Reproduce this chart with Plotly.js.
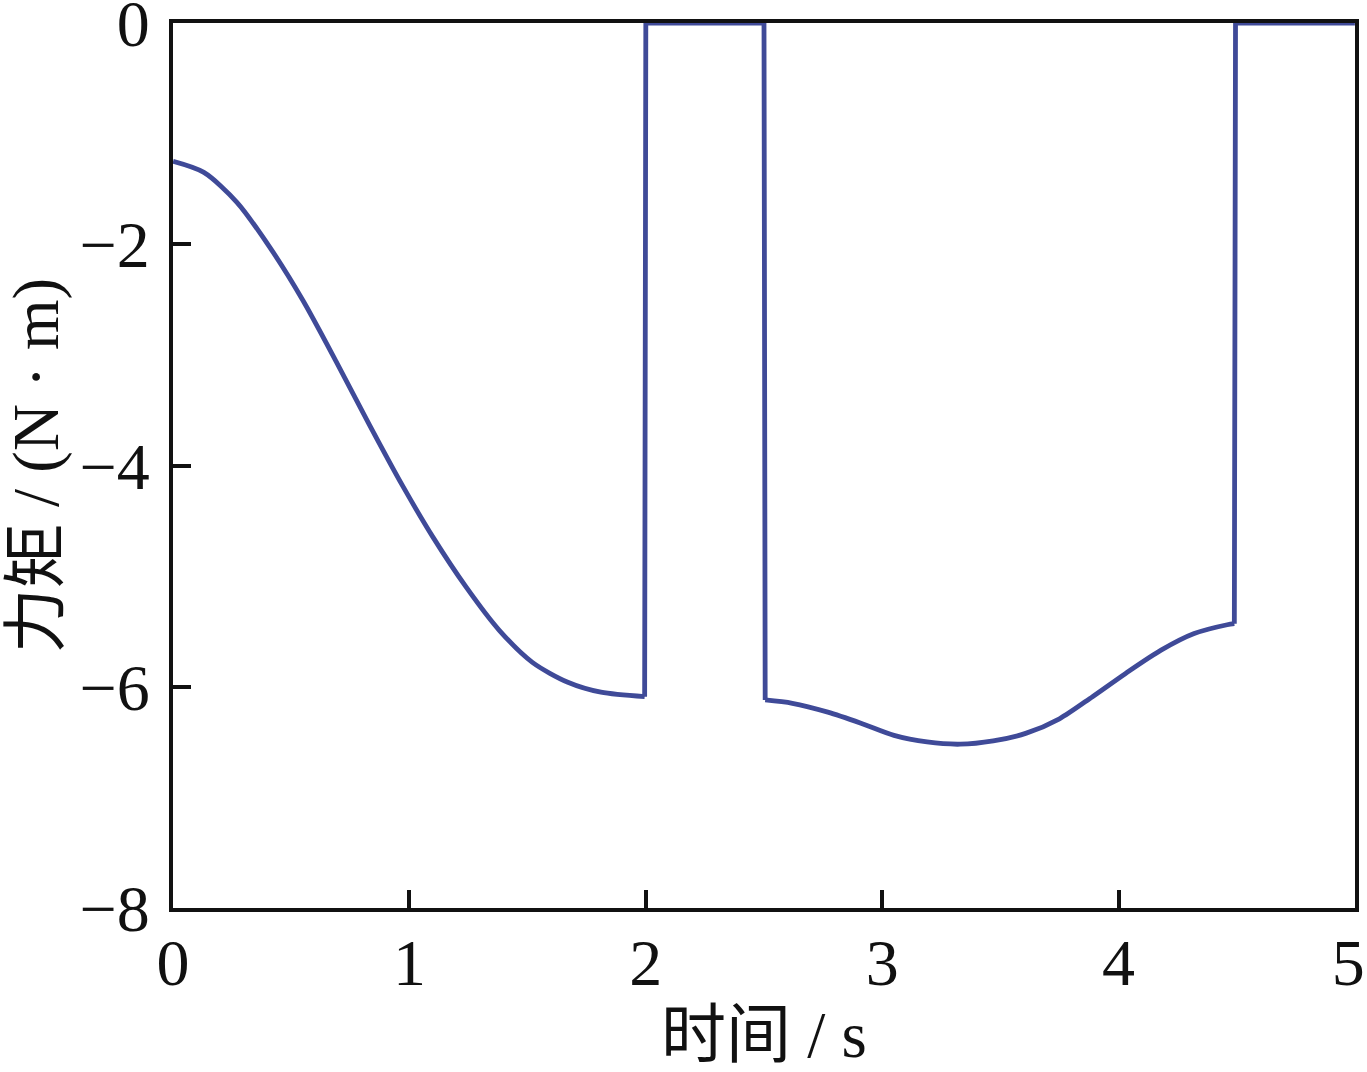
<!DOCTYPE html>
<html>
<head>
<meta charset="utf-8">
<script src="https://cdn.plot.ly/plotly-3.0.1.min.js"></script>
<style>
  html, body { margin: 0; padding: 0; background: #ffffff; }
  #chart { width: 1367px; height: 1072px; }
</style>
</head>
<body>
<div id="chart"></div>
<script>
// Time (s)
const time = [0, 0.13, 0.27, 0.41, 0.55, 0.69, 0.83, 0.97, 1.10, 1.24, 1.38, 1.52, 1.67, 1.81, 1.995,
              2.0, 2.5,
              2.505, 2.62, 2.77, 2.91, 3.05, 3.19, 3.33, 3.47, 3.61, 3.75, 3.89, 4.03, 4.18, 4.32, 4.46, 4.49,
              4.495, 5.0];
// Torque (N·m)
const torque = [-1.25, -1.35, -1.62, -2.03, -2.51, -3.06, -3.63, -4.18, -4.65, -5.10, -5.49, -5.78, -5.96, -6.05, -6.09,
                0, 0,
                -6.12, -6.15, -6.23, -6.33, -6.44, -6.50, -6.52, -6.49, -6.42, -6.29, -6.09, -5.88, -5.67, -5.52, -5.44, -5.43,
                0, 0];

const xTicks = [0, 1, 2, 3, 4, 5];
const xTickText = ['0', '1', '2', '3', '4', '5\u2009'];
const yTicks = [0, -2, -4, -6, -8];
const xTitle = '时间 / s';
const yTitle = '力矩 / (N · m)';

// Smooth parts and step parts of the single curve (index ranges into the arrays)
const segments = [
  { from: 0, to: 14, shape: 'spline' },
  { from: 14, to: 17, shape: 'linear' },
  { from: 17, to: 32, shape: 'spline' },
  { from: 32, to: 34, shape: 'linear' }
];

const fontFamily = '"Liberation Serif", "Times New Roman", "Noto Sans CJK SC", serif';
const lineColor = '#3f4a98';

const traces = segments.map(s => ({
  x: time.slice(s.from, s.to + 1),
  y: torque.slice(s.from, s.to + 1),
  type: 'scatter',
  mode: 'lines',
  line: { color: lineColor, width: 4.8, shape: s.shape, smoothing: 0.8 },
  cliponaxis: false,
  hoverinfo: 'skip'
}));

const axisCommon = {
  showgrid: false,
  zeroline: false,
  showline: true,
  linecolor: '#111111',
  linewidth: 4,
  mirror: true,
  ticks: 'inside',
  ticklen: 18,
  tickwidth: 4,
  tickcolor: '#111111',
  tickfont: { family: fontFamily, size: 66, color: '#111111' },
  ticklabeloverflow: 'allow',
  automargin: false
};

const layout = {
  width: 1367,
  height: 1072,
  paper_bgcolor: '#ffffff',
  plot_bgcolor: '#ffffff',
  showlegend: false,
  margin: { l: 173, r: 12, t: 23, b: 164 },
  xaxis: Object.assign({}, axisCommon, {
    range: [-0.0005, 5.0005],
    tickvals: xTicks,
    ticktext: xTickText,
    ticklabelstandoff: -6,
    title: { text: xTitle, font: { family: fontFamily, size: 65, color: '#111111' }, standoff: 14 }
  }),
  yaxis: Object.assign({}, axisCommon, {
    range: [-8.001, 0.001],
    tickvals: yTicks,
    ticklabelstandoff: 6,
    title: { text: yTitle, font: { family: fontFamily, size: 65, color: '#111111' }, standoff: 6 }
  })
};

Plotly.newPlot('chart', traces, layout, { displayModeBar: false, staticPlot: true });
</script>
</body>
</html>
